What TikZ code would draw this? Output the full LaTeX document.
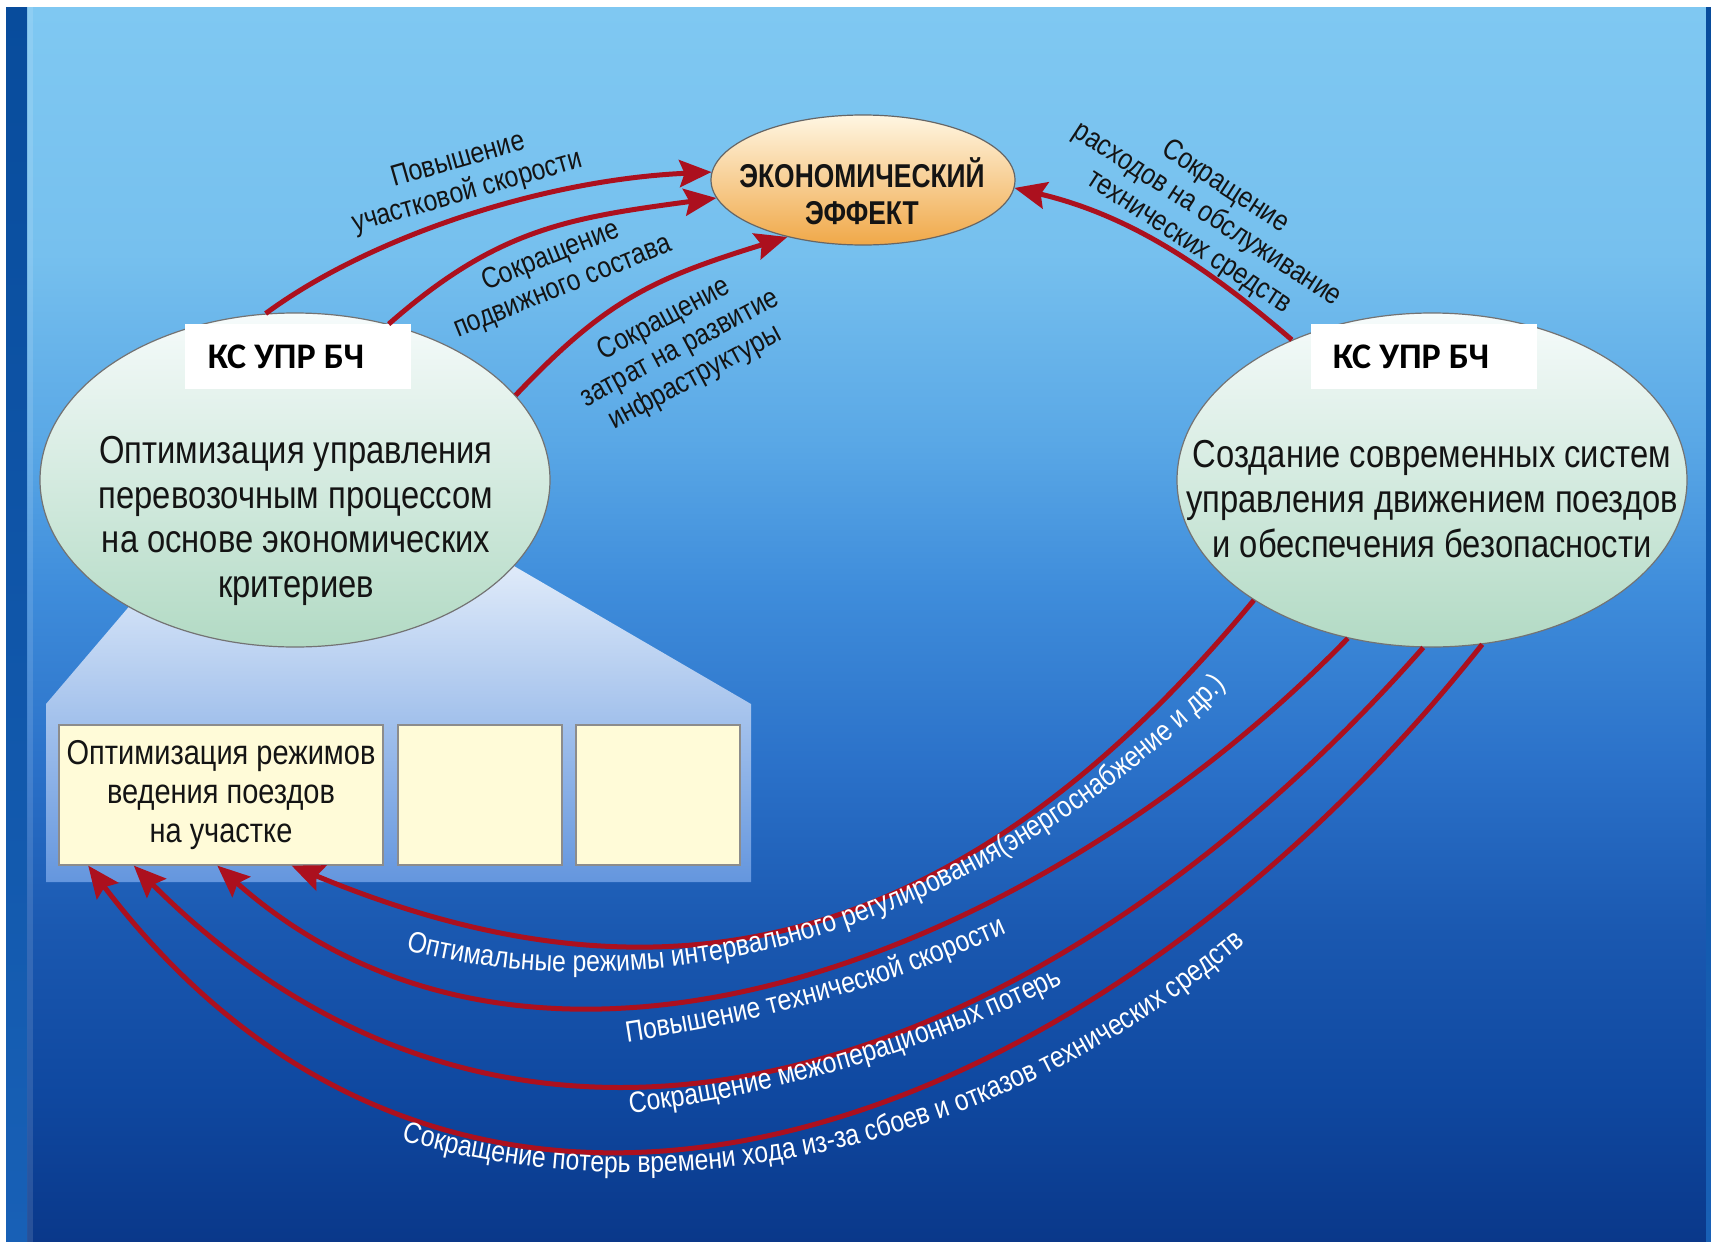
\documentclass[tikz,border=0pt]{standalone}
\usepackage{fontspec}
\usetikzlibrary{shapes.geometric,arrows.meta,decorations.text}
\newfontfamily\nar[FakeStretch=0.84]{Liberation Sans}
\newfontfamily\narb[FakeStretch=0.80]{Liberation Sans Bold}
\newfontfamily\kcf{Carlito}

\definecolor{arrowred}{RGB}{172,16,30}
\definecolor{bgA}{RGB}{10,56,138}
\definecolor{bgB}{RGB}{15,72,160}
\definecolor{bgC}{RGB}{26,88,176}
\definecolor{bgD}{RGB}{42,112,200}
\definecolor{bgE}{RGB}{63,141,219}
\definecolor{bgF}{RGB}{90,168,230}
\definecolor{bgG}{RGB}{118,192,238}
\definecolor{bgH}{RGB}{127,200,242}
\definecolor{stripeTop}{RGB}{8,76,156}
\definecolor{stripeBot}{RGB}{24,96,182}
\definecolor{panelTop}{RGB}{240,246,253}
\definecolor{panelMid}{RGB}{205,222,245}
\definecolor{panelBot}{RGB}{100,150,222}
\definecolor{boxfill}{RGB}{255,251,216}
\definecolor{ellTop}{RGB}{246,251,251}
\definecolor{ellBot}{RGB}{178,218,196}
\definecolor{econTop}{RGB}{255,246,226}
\definecolor{econBot}{RGB}{240,168,72}
\definecolor{inktext}{RGB}{20,20,20}

% sky-to-navy background; the used band of a tikz shading is 25bp..75bp
\pgfdeclareverticalshading{bgshade}{100bp}{color(0bp)=(bgA); color(25bp)=(bgA); color(31bp)=(bgB); color(37.5bp)=(bgC); color(44bp)=(bgD); color(51.5bp)=(bgE); color(57.5bp)=(bgF); color(65bp)=(bgG); color(75bp)=(bgH); color(100bp)=(bgH)}

\newcommand{\ellfont}{\nar\fontsize{39}{44.6}\selectfont}
\newcommand{\lblfont}{\nar\fontsize{29.5}{33}\selectfont}
\newcommand{\botlab}{\nar\fontsize{29.5}{30}\selectfont\color{white}}

\begin{document}
\begin{tikzpicture}[x=1pt,y=-1pt,
  redarrow/.style={draw=arrowred, line width=5pt, -{Stealth[length=32pt,width=27pt,inset=5pt]}},
  bigell/.style={ellipse, draw=black!55, line width=1.2pt, minimum width=510pt, minimum height=334pt, top color=ellTop, bottom color=ellBot, inner sep=0pt},
  econell/.style={ellipse, draw=black!60, line width=1.2pt, minimum width=304pt, minimum height=130pt, top color=econTop, bottom color=econBot, inner sep=0pt},
  kcbox/.style={rectangle, fill=white, minimum width=226pt, minimum height=65pt, inner sep=0pt},
  kctext/.style={font=\kcf\bfseries\fontsize{36}{40}\selectfont, text=black, inner sep=0pt},
  ybox/.style={rectangle, draw=black!45, line width=1.2pt, fill=boxfill, minimum height=140pt, inner sep=0pt},
  lbl/.style={font=\lblfont, text=inktext, align=center, inner sep=0pt},
  elltext/.style={font=\ellfont, text=inktext, align=center, inner sep=0pt},
  botpath/.style={decorate, decoration={text along path, text align=left}}
]
\useasboundingbox (0,0) rectangle (1711,1242);

% background with side stripes
\fill[white] (0,0) rectangle (1711,1242);
\shade[shading=bgshade] (6,7) rectangle (1711,1242);
\shade[top color=stripeTop, bottom color=stripeBot] (6,7) rectangle (27,1242);
\fill[white, opacity=0.12] (27,7) rectangle (33,1242);
\shade[top color=stripeTop, bottom color=stripeBot] (1706,7) rectangle (1711,1242);

% light panel that opens below the left ellipse
\shade[top color=panelTop, middle color=panelMid, bottom color=panelBot]
  (150,582) -- (46,704) -- (46,882) -- (751,882) -- (751,704) -- (440,523) -- cycle;

% three boxes on the panel
\node[ybox, minimum width=324pt, align=center, font=\nar\fontsize{34.5}{39}\selectfont, text=inktext] (b1) at (221,795)
  {Оптимизация режимов\\ведения поездов\\на участке};
\node[ybox, minimum width=164pt] (b2) at (480,795) {};
\node[ybox, minimum width=164pt] (b3) at (658,795) {};

% main ellipses
\node[bigell] (lell) at (295,480) {};
\node[bigell] (rell) at (1432,480) {};
\node[econell] (econ) at (863,180) {};

\node[elltext] (ltext) at (296,521)
  {Оптимизация управления\\перевозочным процессом\\на основе экономических\\критериев};
\node[elltext] (rtext) at (1432,499)
  {Создание современных систем\\управления движением поездов\\и обеспечения безопасности};
\node[font=\narb\fontsize{33}{37}\selectfont, text=inktext, align=center, inner sep=0pt] (etext) at (862,191)
  {ЭКОНОМИЧЕСКИЙ\\ЭФФЕКТ};

% white tags
\node[kcbox] (lkbox) at (298,356) {};
\node[kctext] (lktext) at (286,357) {КС УПР БЧ};
\node[kcbox] (rkbox) at (1424,356) {};
\node[kctext] (rktext) at (1411,357) {КС УПР БЧ};

% arrows into the economic effect
\draw[redarrow] (lell.100) .. controls (368,238) and (540,180) .. (econ.177);
\draw[redarrow] (lell.59.5) .. controls (497,229) and (567,218) .. (econ.187.8);
\draw[redarrow] (lell.21) .. controls (605,301) and (651,279) .. (econ.217);
\draw[redarrow] (rell.135) .. controls (1199,260) and (1124,214) .. (econ.-3);

% arrows back to the first box
\draw[redarrow] (rell.214) .. controls (969,944) and (675,1025) .. (b1.-45.8);
\draw[redarrow] (rell.242) .. controls (1045,950) and (543,1154) .. (b1.267.6);
\draw[redarrow] (rell.267) .. controls (1051,1070) and (532,1264) .. (b1.219.5);
\draw[redarrow] (rell.287.6) .. controls (1090,1139) and (472,1370) .. (b1.208.3);

% labels of the upper arrows
\node[lbl, rotate=16] (l1) at (463,177) {Повышение\\участковой скорости};
\node[lbl, rotate=22] (l2) at (557,272) {Сокращение\\подвижного состава};
\node[lbl, rotate=28] (l3) at (680,349) {Сокращение\\затрат на развитие\\инфраструктуры};
\node[lbl, rotate=-33] (r1) at (1207,215) {Сокращение\\расходов на обслуживание\\технических средств};

% labels along the lower arrows
\path[botpath, decoration={text={|\botlab|Оптимальные режимы интервального регулирования(энергоснабжение и др.)}}]
  (406,950) .. controls (656,1015) and (985,940) .. (1250,662);
\path[botpath, decoration={text={|\botlab|Повышение технической скорости}}]
  (627,1042) .. controls (757,1022) and (880,992) .. (1025,925);
\path[botpath, decoration={text={|\botlab|Сокращение межоперационных потерь}}]
  (630,1113) .. controls (770,1096) and (920,1055) .. (1070,980);
\path[botpath, decoration={text={|\botlab|Сокращение потерь времени хода из-за сбоев и отказов технических средств}}]
  (402,1140) .. controls (652,1215) and (990,1165) .. (1255,935);
\end{tikzpicture}
\end{document}
